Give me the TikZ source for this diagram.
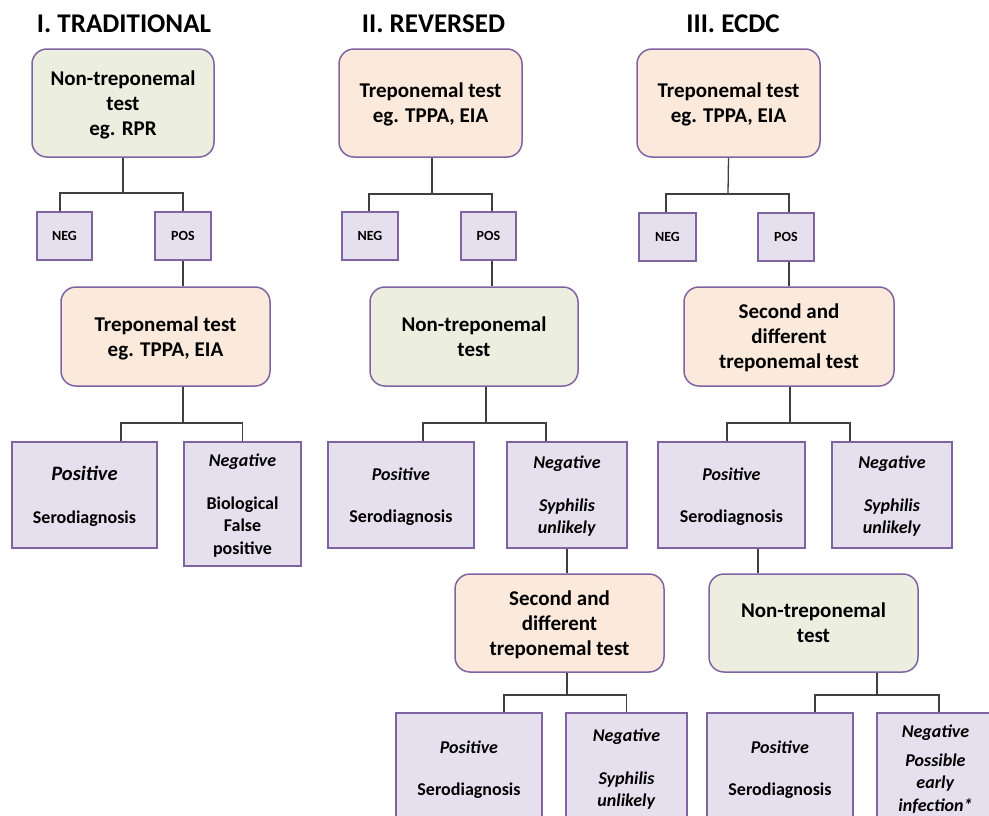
\documentclass[tikz,border=0pt]{standalone}
\usepackage{fontspec}
\setmainfont{Carlito}
\definecolor{boxline}{HTML}{8064A2}
\definecolor{greenfill}{HTML}{ECEFE0}
\definecolor{peachfill}{HTML}{FBE9DC}
\definecolor{lilac}{HTML}{E6E0EE}
\definecolor{linkgray}{HTML}{3F3F3F}
\tikzset{
  testbox/.style={draw=boxline, line width=1.5pt, rounded corners=15pt, align=center,
    inner sep=0pt, text depth=0pt, font=\fontsize{21}{25}\selectfont\bfseries},
  greenbox/.style={testbox, fill=greenfill},
  peachbox/.style={testbox, fill=peachfill},
  resultbox/.style={draw=boxline, line width=1.5pt, fill=lilac, align=center,
    inner sep=0pt, text depth=0pt, font=\fontsize{18}{22.5}\selectfont\bfseries},
  signbox/.style={resultbox, font=\fontsize{14}{16}\selectfont\bfseries},
  link/.style={draw=linkgray, line width=1.3pt},
  heading/.style={font=\fontsize{27}{30}\selectfont\bfseries, inner sep=0pt}
}
\begin{document}
\begin{tikzpicture}[x=1pt, y=-1pt]
\useasboundingbox (0,0) rectangle (989,815);
\clip (0,0) rectangle (989,815);

% ---------- I. Traditional ----------
\node[heading] (h1) at (124,24) {I. TRADITIONAL};
\node[greenbox, minimum width=182pt, minimum height=108pt] (A1) at (123,103)
  {Non-treponemal\\test\\eg. RPR};
\node[signbox, minimum width=55pt, minimum height=48pt] (N1) at (64.5,236) {NEG};
\node[signbox, minimum width=56pt, minimum height=48pt] (P1) at (183,236) {POS};
\node[peachbox, minimum width=209pt, minimum height=99pt] (B1) at (165.5,336.5)
  {Treponemal test\\eg. TPPA, EIA};
\node[resultbox, minimum width=145pt, minimum height=106pt] (C1) at (84.5,495)
  {{\fontsize{20.5}{22.5}\selectfont\textit{Positive}}\\[20pt]Serodiagnosis};
\node[resultbox, minimum width=117pt, minimum height=124pt] (D1) at (242.5,504)
  {\textit{Negative}\\[20pt]Biological\\False\\positive};

\coordinate (J1) at (123,193);
\coordinate (J2) at (183,423);
\draw[link] (A1.south) -- (J1);
\draw[link] ([xshift=-4.5pt]N1.north) |- (J1) -| (P1.north);
\draw[link] (P1.south) -- (P1.south |- B1.north);
\draw[link] (J2 |- B1.south) -- (J2);
\draw[link] ([xshift=36.5pt]C1.north) |- (J2) -| (D1.north);

% ---------- II. Reversed ----------
\node[heading] (h2) at (433.5,24) {II. REVERSED};
\node[peachbox, minimum width=183pt, minimum height=108pt] (A2) at (430.5,103)
  {Treponemal test\\eg. TPPA, EIA};
\node[signbox, minimum width=56pt, minimum height=48pt] (N2) at (370,236) {NEG};
\node[signbox, minimum width=55pt, minimum height=48pt] (P2) at (488.5,236) {POS};
\node[greenbox, minimum width=208pt, minimum height=99pt] (B2) at (474,336.5)
  {Non-treponemal\\test};
\node[resultbox, minimum width=146pt, minimum height=106pt] (C2) at (401,495)
  {\textit{Positive}\\[20pt]Serodiagnosis};
\node[resultbox, minimum width=120pt, minimum height=106pt] (D2) at (567,495)
  {\textit{Negative}\\[20pt]\textit{Syphilis}\\\textit{unlikely}};
\node[peachbox, minimum width=209pt, minimum height=98pt] (E2) at (559.5,623)
  {Second and\\different\\treponemal test};
\node[resultbox, minimum width=146pt, minimum height=110pt] (F2) at (469,768)
  {\textit{Positive}\\[20pt]Serodiagnosis};
\node[resultbox, minimum width=121pt, minimum height=110pt] (G2) at (626.5,768)
  {\textit{Negative}\\[20pt]\textit{Syphilis}\\\textit{unlikely}};

\coordinate (J3) at (432,194);
\coordinate (J4) at (486,423);
\coordinate (J5) at (567,695);
\draw[link] ([xshift=1.5pt]A2.south) -- (J3);
\draw[link] ([xshift=-1pt]N2.north) |- (J3) -| ([xshift=3.5pt]P2.north);
\draw[link] ([xshift=3.5pt]P2.south) -- ([xshift=3.5pt]P2.south |- B2.north);
\draw[link] (J4 |- B2.south) -- (J4);
\draw[link] ([xshift=22pt]C2.north) |- (J4) -| ([xshift=-21pt]D2.north);
\draw[link] (D2.south) -- (D2.south |- E2.north);
\draw[link] (J5 |- E2.south) -- (J5);
\draw[link] ([xshift=35pt]F2.north) |- (J5) -| (G2.north);

% ---------- III. ECDC ----------
\node[heading] (h3) at (733,24) {III. ECDC};
\node[peachbox, minimum width=183pt, minimum height=108pt] (A3) at (728.5,103)
  {Treponemal test\\eg. TPPA, EIA};
\node[signbox, minimum width=57pt, minimum height=48pt] (N3) at (667.5,237) {NEG};
\node[signbox, minimum width=56pt, minimum height=48pt] (P3) at (786,237) {POS};
\node[peachbox, minimum width=210pt, minimum height=99pt] (B3) at (789,336.5)
  {Second and\\different\\treponemal test};
\node[resultbox, minimum width=147pt, minimum height=106pt] (C3) at (731.5,495)
  {\textit{Positive}\\[20pt]Serodiagnosis};
\node[resultbox, minimum width=120pt, minimum height=106pt] (D3) at (892,495)
  {\textit{Negative}\\[20pt]\textit{Syphilis}\\\textit{unlikely}};
\node[greenbox, minimum width=209pt, minimum height=98pt] (E3) at (813.5,623)
  {Non-treponemal\\test};
\node[resultbox, minimum width=146pt, minimum height=110pt] (F3) at (780,768)
  {\textit{Positive}\\[20pt]Serodiagnosis};
\node[resultbox, minimum width=117pt, minimum height=110pt] (G3) at (935.5,768)
  {\textit{Negative}\\[6pt]\textit{Possible}\\\textit{early}\\\textit{infection*}};

\coordinate (J6) at (728,194);
\coordinate (J7) at (790,423);
\coordinate (J8) at (877,695);
\draw[link] (A3.south) -- (J6);
\draw[link] ([xshift=-1.5pt]N3.north) |- (J6) -| ([xshift=3pt]P3.north);
\draw[link] ([xshift=3pt]P3.south) -- ([xshift=3pt]P3.south |- B3.north);
\draw[link] (J7 |- B3.south) -- (J7);
\draw[link] ([xshift=-4.5pt]C3.north) |- (J7) -| ([xshift=-42pt]D3.north);
\draw[link] ([xshift=26.5pt]C3.south) -- ([xshift=26.5pt]C3.south |- E3.north);
\draw[link] (J8 |- E3.south) -- (J8);
\draw[link] ([xshift=35pt]F3.north) |- (J8) -| ([xshift=3.5pt]G3.north);
\end{tikzpicture}
\end{document}
